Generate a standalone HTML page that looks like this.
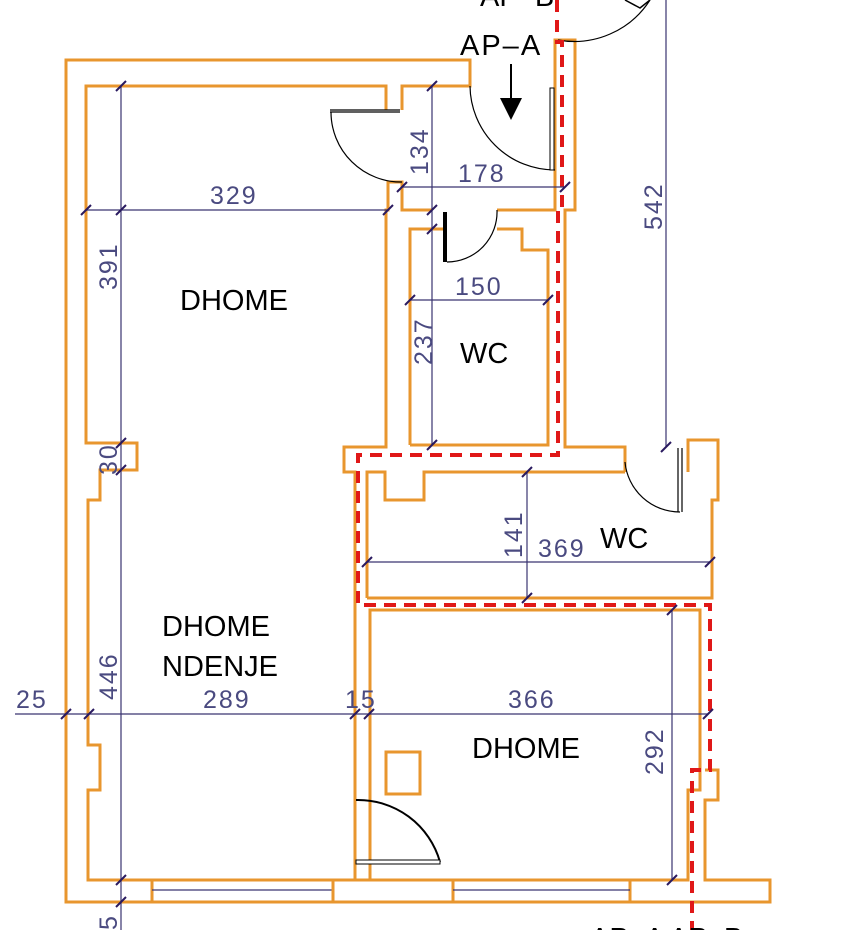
<!DOCTYPE html>
<html><head><style>
html,body{margin:0;padding:0;background:#fff;width:848px;height:930px;overflow:hidden}
svg{display:block}
.w{fill:none;stroke:#e8962e;stroke-width:3}
.d{fill:none;stroke:#3a3470;stroke-width:1.2}
.t{stroke:#2a1a60;stroke-width:2}
.r{fill:none;stroke:#e01818;stroke-width:4;stroke-dasharray:12,8}
.dim{font-family:"Liberation Sans",sans-serif;font-size:25px;fill:#4a4a80;letter-spacing:2px;font-weight:300}
.lab{font-family:"Liberation Sans",sans-serif;font-size:29px;fill:#000}
.k{fill:none;stroke:#000;stroke-width:1.2}
</style></head><body>
<svg width="848" height="930" viewBox="0 0 848 930">
<polyline class="w" points="152,902 66,902 66,60 470,60 470,86 402,86 402,110"/>
<polyline class="w" points="386,110 386,86 86,86 86,443 137,443 137,470 100,470 100,500 88,500 88,745 100,745 100,790 88,790 88,880 152,880"/>
<rect class="w" x="152" y="880" width="181" height="22"/>
<line class="d" x1="152" y1="890" x2="333" y2="890"/>
<rect class="w" x="333" y="880" width="120" height="22"/>
<rect class="w" x="453" y="880" width="177" height="22"/>
<line class="d" x1="453" y1="890" x2="630" y2="890"/>
<polyline class="w" points="630,902 770,902 770,880 705,880 705,800 718,800 718,770 705,770"/>
<polyline class="w" points="630,880 688,880 688,790 700,790 700,610 370,610 370,880 355,880 355,472 344,472 344,447 386,447 386,210 388,210 388,182 402,182 402,210 432,210"/>
<polyline class="w" points="497,210 555,210 555,40 575,40 575,210 565,210 565,447 625,447 625,472"/>
<polyline class="w" points="410,445 410,229 443,229"/>
<polyline class="w" points="497,229 522,229 522,250 548,250 548,445 410,445"/>
<polyline class="w" points="367,598 367,472 385,472 385,500 424,500 424,472 625,472"/>
<polyline class="w" points="367,598 712,598 712,500 718,500 718,440 688,440 688,472"/>
<rect class="w" x="386" y="752" width="34" height="42"/>
<path class="k" d="M330,112 H400 M330,110 H400"/>
<path class="k" d="M331,112 A70,70 0 0,0 402,182"/>
<path class="k" d="M470,86 A85,85 0 0,0 555,170"/>
<rect x="550" y="88" width="4" height="82" fill="#fff" stroke="#000" stroke-width="1"/>
<rect x="443" y="212" width="4" height="50" fill="#000"/>
<path class="k" d="M447,262 A50,50 0 0,0 497,210"/>
<path class="k" d="M678,448 V512 M682,448 V512"/>
<path class="k" d="M625,462 A55,55 0 0,0 680,512"/>
<path d="M356,800 A85,85 0 0,1 440,862" fill="none" stroke="#000" stroke-width="2"/>
<rect x="356" y="860" width="84" height="4" fill="#fff" stroke="#000" stroke-width="1"/>
<path class="k" d="M558,40 A90,90 0 0,0 650,0"/>
<path d="M625,0 L640,8 L650,0" fill="none" stroke="#000" stroke-width="1.5"/>
<line x1="511" y1="64" x2="511" y2="98" stroke="#000" stroke-width="2"/>
<path d="M500,98 L522,98 L511,120 Z" fill="#000"/>
<polyline class="r" points="557,0 557,42 562,42 562,210 558,210 558,455 358,455 358,605 710,605 710,770 692,770 692,930"/>
<line class="d" x1="121" y1="86" x2="121" y2="930"/>
<line class="d" x1="86" y1="210" x2="388" y2="210"/>
<line class="d" x1="432" y1="86" x2="432" y2="445"/>
<line class="d" x1="402" y1="187" x2="565" y2="187"/>
<line class="d" x1="410" y1="300" x2="548" y2="300"/>
<line class="d" x1="666" y1="0" x2="666" y2="447"/>
<line class="d" x1="527" y1="472" x2="527" y2="598"/>
<line class="d" x1="367" y1="562" x2="710" y2="562"/>
<line class="d" x1="15" y1="714" x2="708" y2="714"/>
<line class="d" x1="672" y1="610" x2="672" y2="880"/>
<g class="t">
<path d="M116,91 L126,81 M116,215 L126,205 M116,448 L126,438 M116,475 L126,465 M116,885 L126,875 M116,907 L126,897"/>
<path d="M81,215 L91,205 M383,215 L393,205 M427,91 L437,81 M427,215 L437,205 M427,234 L437,224 M427,450 L437,440"/>
<path d="M397,192 L407,182 M560,192 L570,182 M405,305 L415,295 M543,305 L553,295"/>
<path d="M661,452 L671,442 M522,477 L532,467 M522,603 L532,593 M362,567 L372,557 M705,567 L715,557"/>
<path d="M61,719 L71,709 M84,719 L94,709 M350,719 L360,709 M364,719 L374,709 M703,719 L713,709 M667,615 L677,605 M667,885 L677,875"/>
</g>
<text class="dim" x="210" y="204">329</text>
<text class="dim" x="458" y="182">178</text>
<text class="dim" x="455" y="295">150</text>
<text class="dim" x="538" y="557">369</text>
<text class="dim" x="16" y="708">25</text>
<text class="dim" x="203" y="708">289</text>
<text class="dim" x="345" y="708">15</text>
<text class="dim" x="508" y="708">366</text>
<text class="dim" transform="translate(117,290) rotate(-90)">391</text>
<text class="dim" transform="translate(117,475) rotate(-90)">30</text>
<text class="dim" transform="translate(117,700) rotate(-90)">446</text>
<text class="dim" transform="translate(117,930) rotate(-90)">5</text>
<text class="dim" transform="translate(428,175) rotate(-90)">134</text>
<text class="dim" transform="translate(432,365) rotate(-90)">237</text>
<text class="dim" transform="translate(662,230) rotate(-90)">542</text>
<text class="dim" transform="translate(522,558) rotate(-90)">141</text>
<text class="dim" transform="translate(663,775) rotate(-90)">292</text>
<text class="lab" x="180" y="310">DHOME</text>
<text class="lab" x="460" y="363">WC</text>
<text class="lab" x="600" y="548">WC</text>
<text class="lab" x="162" y="636">DHOME</text>
<text class="lab" x="162" y="676">NDENJE</text>
<text class="lab" x="472" y="758">DHOME</text>
<text class="lab" x="460" y="55" style="letter-spacing:2px">AP–A</text>
<text class="lab" x="480" y="6">AP–B</text>
<text class="lab" x="590" y="948">AP–A AP–B</text>
</svg>
</body></html>
